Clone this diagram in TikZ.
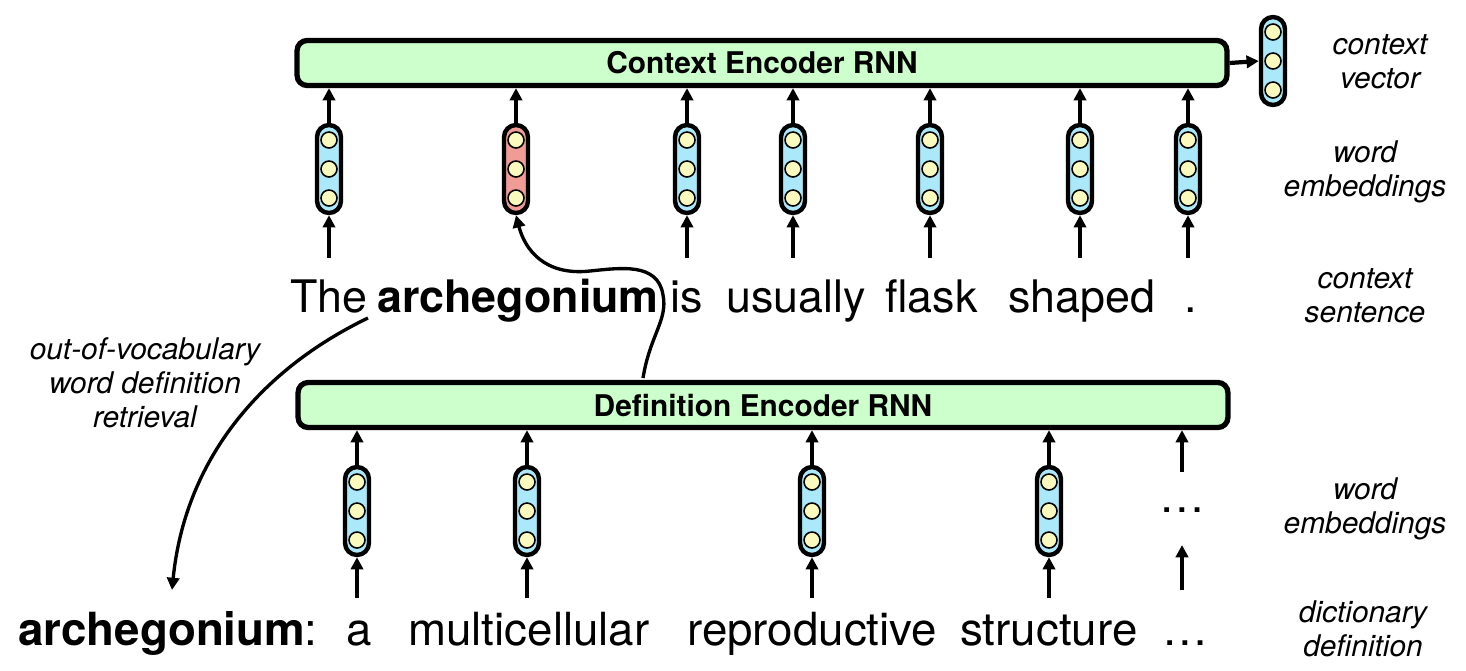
\documentclass[tikz,border=0pt]{standalone}
\usepackage{fontspec}
\setmainfont{TeX Gyre Heros}
\usetikzlibrary{arrows.meta}
\definecolor{boxgreen}{RGB}{204,255,204}
\definecolor{vecblue}{RGB}{170,232,250}
\definecolor{vecred}{RGB}{240,155,150}
\definecolor{dotyellow}{RGB}{250,250,190}
\tikzset{
  encbox/.style={draw, line width=3pt, rounded corners=0.2cm, fill=boxgreen,
    minimum width=18.6cm, minimum height=0.9cm, inner sep=0,
    font=\fontsize{17}{20}\selectfont\bfseries},
  vecbox/.style={draw, line width=2.5pt, rounded corners=0.24cm,
    minimum width=0.48cm, minimum height=1.76cm, inner sep=0},
  dotc/.style={draw, circle, line width=0.9pt, fill=dotyellow,
    minimum size=0.32cm, inner sep=0},
  arr/.style={line width=2.4pt, -{Triangle[length=7pt,width=7pt]}},
  carr/.style={line width=1.9pt, -{Triangle[length=7pt,width=7pt]}},
  word/.style={inner sep=0, anchor=base west, font=\fontsize{25.5}{30}\selectfont},
  bword/.style={inner sep=0, anchor=base west, font=\fontsize{26}{30}\selectfont},
  lab/.style={align=center, inner sep=0, font=\fontsize{17}{19.5}\selectfont\itshape},
}
\newcommand\wv[4]{%
  \node[vecbox, fill=#4] (#1) at (#2,#3) {};
  \foreach \dy/\s in {-29/a,0/b,29/c} \node[dotc] (#1\s) at (#2,{#3+\dy}) {};
}
\begin{document}
\begin{tikzpicture}[x=0.02cm, y=-0.02cm]
\useasboundingbox (0,0) rectangle (1466,670);

% encoders
\node[encbox] (cbox) at (762,63) {Context Encoder RNN};
\node[encbox] (dbox) at (763,405) {Definition Encoder RNN};

% context vector
\wv{cv}{1273}{61}{vecblue}
\draw[arr] (cbox.east) -- (cv.west);

% top word embeddings
\wv{v1}{329}{169}{vecblue}
\wv{v2}{516}{169}{vecred}
\wv{v3}{687}{169}{vecblue}
\wv{v4}{793}{169}{vecblue}
\wv{v5}{930}{169}{vecblue}
\wv{v6}{1080}{169}{vecblue}
\wv{v7}{1188}{169}{vecblue}

\foreach \v in {v1,v2,v3,v4,v5,v6,v7}
  \draw[arr] (\v.north) -- (\v.north |- cbox.south);

\coordinate (s1) at (329,258);
\coordinate (s3) at (687,258);
\coordinate (s4) at (793,258);
\coordinate (s5) at (930,258);
\coordinate (s6) at (1080,258);
\coordinate (s7) at (1188,258);
\foreach \i in {1,3,4,5,6,7}
  \draw[arr] (s\i) -- (v\i.south);

% context sentence
\node[word] (w1) at (290,312) {The};
\node[word, font=\fontsize{25.5}{30}\selectfont\bfseries] (w2) at (377,312) {archegonium};
\node[word] (w3) at (670,312) {is};
\node[word] (w4) at (726,312) {usually};
\node[word] (w5) at (885,312) {flask};
\node[word] (w6) at (1008,312) {shaped};
\node[word] (w7) at (1184,312) {.};

% lower word embeddings
\wv{u1}{357}{511}{vecblue}
\wv{u2}{527}{511}{vecblue}
\wv{u3}{812}{511}{vecblue}
\wv{u4}{1049}{511}{vecblue}
\foreach \u in {u1,u2,u3,u4}
  \draw[arr] (\u.north) -- (\u.north |- dbox.south);
\coordinate (t1) at (357,598);
\coordinate (t2) at (527,598);
\coordinate (t3) at (812,598);
\coordinate (t4) at (1049,598);
\foreach \i in {1,2,3,4}
  \draw[arr] (t\i) -- (u\i.south);

\node[inner sep=0, font=\fontsize{26}{30}\selectfont] (dots) at (1182,510) {…};
\coordinate (dt) at (1182,472);
\coordinate (db1) at (1182,590);
\coordinate (db2) at (1182,545);
\draw[arr] (dt) -- (dt |- dbox.south);
\draw[arr] (db1) -- (db2);

% dictionary definition
\node[bword, font=\fontsize{26}{30}\selectfont\bfseries] (d0) at (18,645) {archegonium};
\node[bword] (dc) at (304,645) {:};
\node[bword] (d1) at (346,645) {a};
\node[bword] (d2) at (408,645) {multicellular};
\node[bword] (d3) at (687,645) {reproductive};
\node[bword] (d4) at (960,645) {structure};
\node[bword] (d5) at (1162,645) {…};

% curves
\coordinate (c1s) at (368,318);
\coordinate (c1e) at (172,590);
\draw[carr] (c1s) .. controls (260,370) and (185,460) .. (c1e);

\coordinate (c2s) at (643,378);
\coordinate (c2a) at (663,295);
\coordinate (c2b) at (590,271);
\draw[carr] (c2s) .. controls (650,335) and (668,320) .. (c2a)
  .. controls (658,262) and (620,268) .. (c2b)
  .. controls (545,276) and (525,250) .. (v2.south);

% labels
\node[lab] (l1) at (1380,62) {context\\vector};
\node[lab] (l2) at (1365,172) {word\\embeddings};
\node[lab] (l3) at (1365,296) {context\\sentence};
\node[lab] (l4) at (1365,509) {word\\embeddings};
\node[lab] (l5) at (1363,629) {dictionary\\definition};
\node[lab] (l6) at (145,383) {out-of-vocabulary\\word definition\\retrieval};
\end{tikzpicture}
\end{document}
